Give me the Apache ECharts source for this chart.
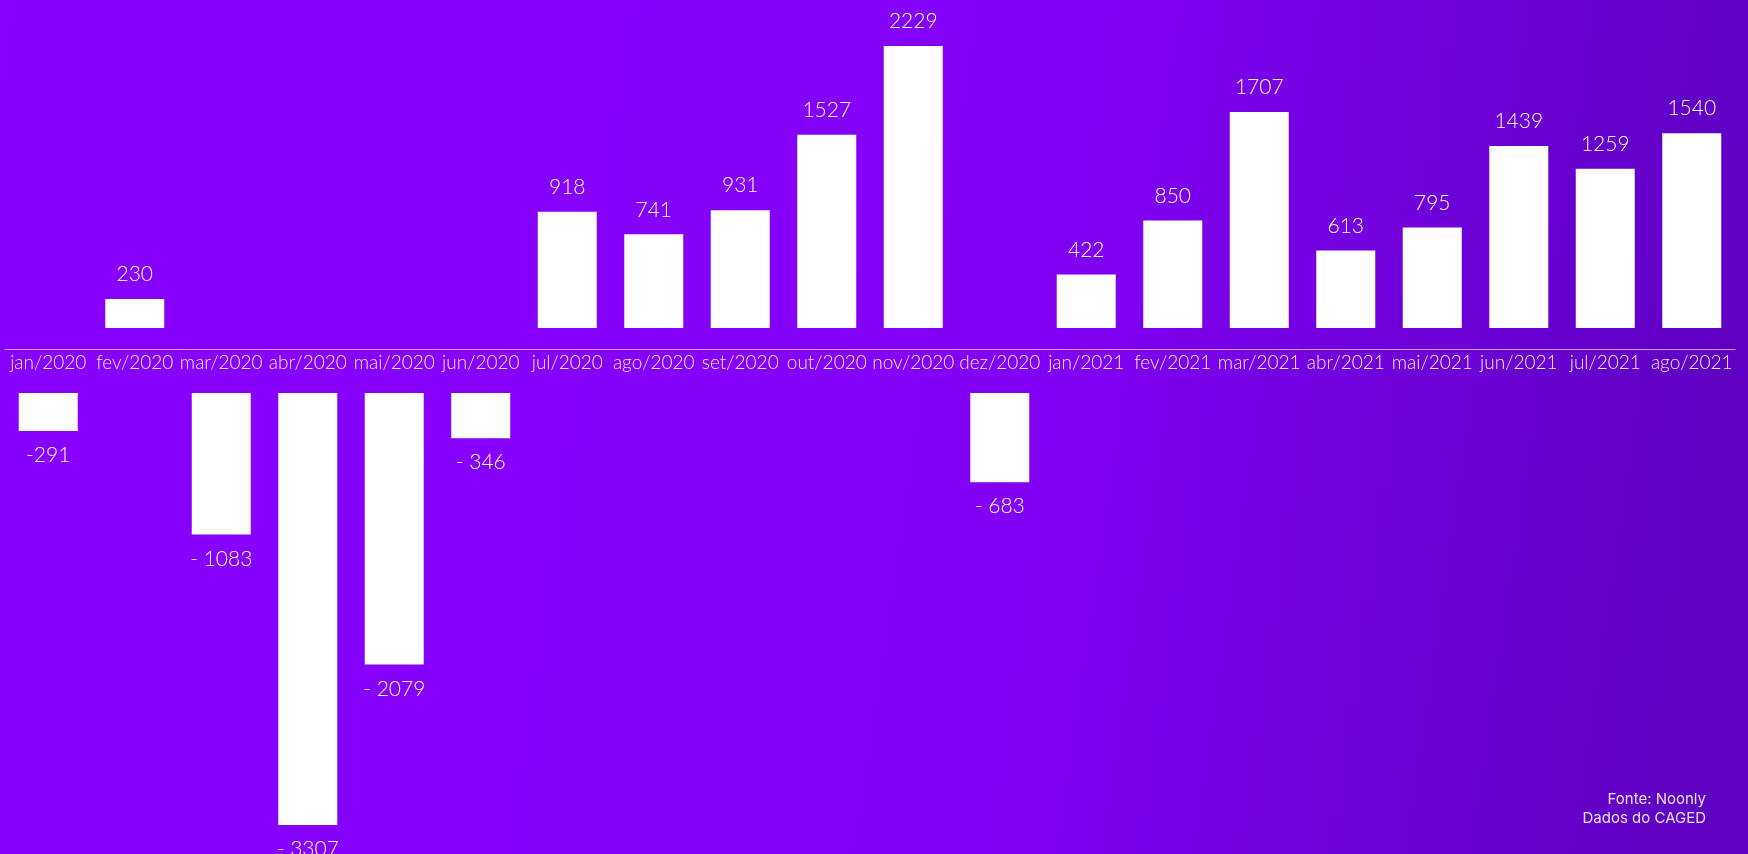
<!DOCTYPE html>
<html>
<head>
<meta charset="utf-8">
<script src="https://cdn.jsdelivr.net/npm/echarts@6/dist/echarts.min.js"></script>
<style>
  html, body { margin: 0; padding: 0; }
  #chart { width: 1748px; height: 854px; }
</style>
</head>
<body>
<div id="chart"></div>
<script>
const categories = ['jan/2020','fev/2020','mar/2020','abr/2020','mai/2020','jun/2020','jul/2020','ago/2020','set/2020','out/2020','nov/2020','dez/2020','jan/2021','fev/2021','mar/2021','abr/2021','mai/2021','jun/2021','jul/2021','ago/2021'];
const values = [-291, 230, -1083, -3307, -2079, -346, 918, 741, 931, 1527, 2229, -683, 422, 850, 1707, 613, 795, 1439, 1259, 1540];
const valueLabels = ['-291','230','- 1083','- 3307','- 2079','- 346','918','741','931','1527','2229','- 683','422','850','1707','613','795','1439','1259','1540'];
const footnoteLines = ['Fonte: Noonly', 'Dados do CAGED'];

const positives = values.map(v => v >= 0 ? v : null);
const negatives = values.map(v => v < 0 ? v : null);
const FONT = 'Lato, "Open Sans", sans-serif';

const chart = echarts.init(document.getElementById('chart'));
const labelFmt = p => valueLabels[p.dataIndex];

chart.setOption({
  backgroundColor: {
    type: 'linear', x: 0, y: 0, x2: 1, y2: 0.3,
    colorStops: [
      { offset: 0, color: '#8800FF' },
      { offset: 0.6, color: '#8300F6' },
      { offset: 1, color: '#5E00C2' }
    ]
  },
  animation: false,
  textStyle: { fontFamily: FONT },
  grid: [
    { left: 5, right: 13, top: 46, bottom: 526 },
    { left: 5, right: 13, top: 393, bottom: 29 }
  ],
  xAxis: [
    {
      type: 'category', gridIndex: 0, data: categories, position: 'bottom', offset: 21,
      axisLine: { show: true, onZero: false, lineStyle: { color: 'rgba(220,190,255,0.85)', width: 1 } },
      axisTick: { show: false },
      axisLabel: { color: '#F2EAFF', fontSize: 19, fontWeight: 300, margin: 4, fontFamily: FONT, interval: 0 }
    },
    {
      type: 'category', gridIndex: 1, data: categories, position: 'top',
      axisLine: { show: false }, axisTick: { show: false }, axisLabel: { show: false }
    }
  ],
  yAxis: [
    { type: 'value', gridIndex: 0, min: 0, max: 2229, show: false, splitLine: { show: false } },
    { type: 'value', gridIndex: 1, min: -3307, max: 0, show: false, splitLine: { show: false } }
  ],
  series: [
    {
      type: 'bar', xAxisIndex: 0, yAxisIndex: 0, data: positives, barWidth: 59,
      itemStyle: { color: '#FFFFFF' },
      label: { show: true, position: 'top', distance: 14, color: '#FFFFFF', fontSize: 21, fontWeight: 300, fontFamily: FONT, formatter: labelFmt }
    },
    {
      type: 'bar', xAxisIndex: 1, yAxisIndex: 1, data: negatives, barWidth: 59,
      itemStyle: { color: '#FFFFFF' },
      label: { show: true, position: 'bottom', distance: 14, color: '#FFFFFF', fontSize: 21, fontWeight: 300, fontFamily: FONT, formatter: labelFmt }
    }
  ],
  graphic: footnoteLines.map((t, i) => ({
    type: 'text', right: 42, top: 792 + i * 19,
    style: { text: t, fill: '#ECDFFF', font: '15px Inter, Roboto, sans-serif' }
  }))
});
</script>
</body>
</html>
